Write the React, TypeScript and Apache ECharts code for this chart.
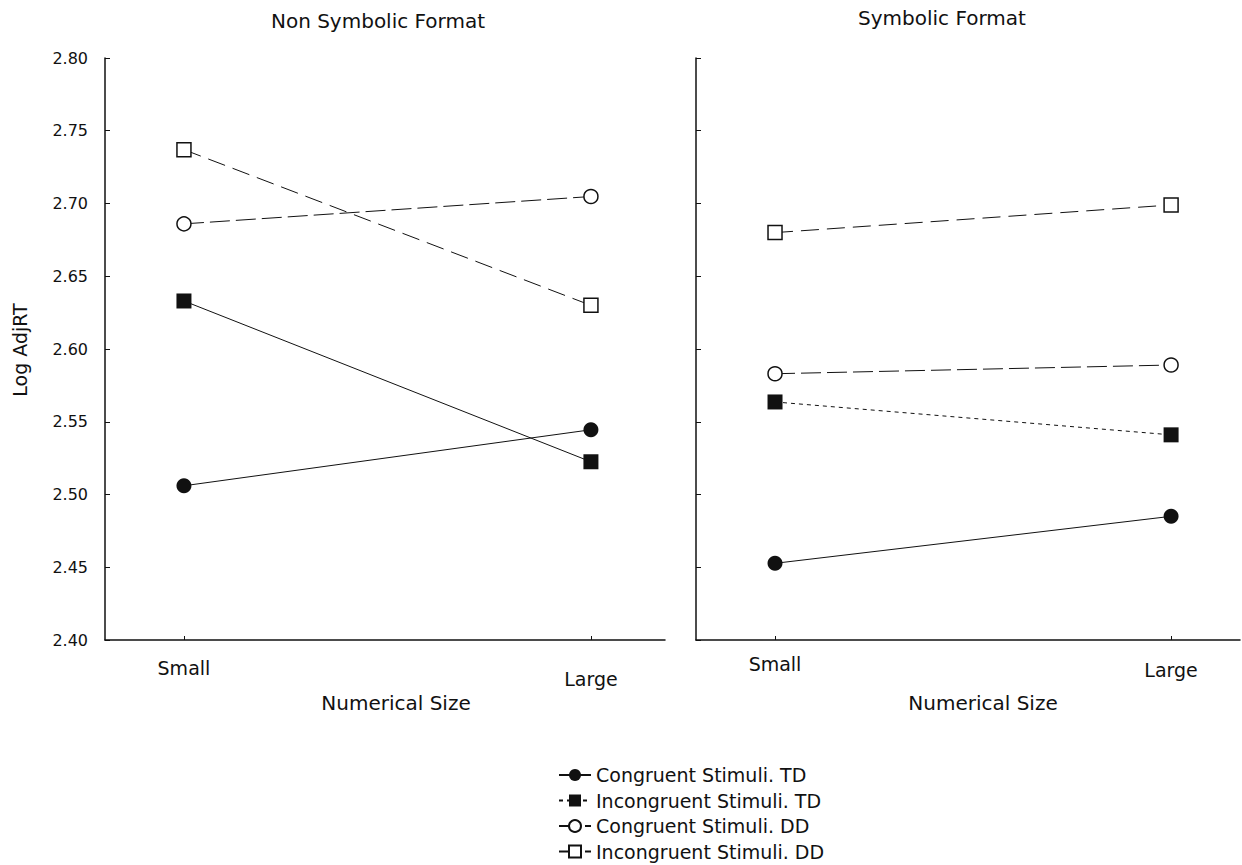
import React, { useEffect, useRef } from "react";
import * as echarts from "echarts";

const categories = ["Small", "Large"];
const seriesNames = [
  "Congruent Stimuli. TD",
  "Incongruent Stimuli. TD",
  "Congruent Stimuli. DD",
  "Incongruent Stimuli. DD",
];
// Non Symbolic Format
const nonSymCongTD = [2.506, 2.5445];
const nonSymIncongTD = [2.633, 2.5225];
const nonSymCongDD = [2.686, 2.7048];
const nonSymIncongDD = [2.737, 2.63];
// Symbolic Format
const symCongTD = [2.4527, 2.485];
const symIncongTD = [2.5636, 2.541];
const symCongDD = [2.583, 2.589];
const symIncongDD = [2.68, 2.699];

const yTicks = [2.4, 2.45, 2.5, 2.55, 2.6, 2.65, 2.7, 2.75, 2.8];

const FONT = "DejaVu Sans";
const INK = "#111";

export default function App() {
  const ref = useRef<HTMLDivElement>(null);
  useEffect(() => {
    if (!ref.current) return;
    const chart = echarts.init(ref.current, null, { renderer: "svg" });

    const styles = [
      { symbol: "circle", size: 15, fill: INK, border: 0, line: "solid" as any },
      { symbol: "rect", size: 15, fill: INK, border: 0, line: "solid" as any },
      { symbol: "circle", size: 14, fill: "#fff", border: 1.5, line: [20, 6] as any },
      { symbol: "rect", size: 14, fill: "#fff", border: 1.5, line: [18, 8] as any },
    ];
    const toPts = (arr: number[]) => arr.map((v, i) => [i, v]);
    const mk = (name: number, data: number[], grid: number, lineType?: any) => {
      const s = styles[name];
      return {
        type: "line",
        name: seriesNames[name],
        xAxisIndex: grid,
        yAxisIndex: grid,
        data: toPts(data),
        symbol: s.symbol,
        symbolSize: s.size,
        showSymbol: true,
        lineStyle: { color: INK, width: 1, type: lineType ?? s.line },
        itemStyle: { color: s.fill, borderColor: INK, borderWidth: s.border },
        z: name >= 2 ? 3 : 4,
      };
    };

    const xAxisBase = (min: number, max: number, smallMargin: number, largePad: number) => ({
      type: "value",
      min,
      max,
      axisLine: { show: true, onZero: false, lineStyle: { color: INK, width: 1.5 } },
      axisTick: { show: true, inside: true, length: 4, customValues: [0, 1], lineStyle: { color: INK } },
      axisLabel: {
        customValues: [0, 1],
        margin: smallMargin,
        formatter: (v: number) => (v === 0 ? "{s|" + categories[0] + "}" : "{l|" + categories[1] + "}"),
        rich: {
          s: { fontFamily: FONT, fontSize: 19, color: INK },
          l: { fontFamily: FONT, fontSize: 19, color: INK, padding: [largePad, 0, 0, 0] },
        },
      },
      splitLine: { show: false },
    });
    const yAxisBase = (showLabels: boolean) => ({
      type: "value",
      min: 2.4,
      max: 2.8,
      interval: 0.05,
      axisLine: { show: true, onZero: false, lineStyle: { color: INK, width: 1.5 } },
      axisTick: { show: true, inside: true, length: 5, lineStyle: { color: INK } },
      axisLabel: {
        show: showLabels,
        margin: 17,
        fontFamily: FONT,
        fontSize: 16,
        color: INK,
        formatter: (v: number) => {
          const t = yTicks.find((k) => Math.abs(k - v) < 1e-6);
          return (t ?? v).toFixed(2);
        },
      },
      splitLine: { show: false },
    });

    chart.setOption({
      animation: false,
      backgroundColor: "#fff",
      textStyle: { fontFamily: FONT },
      grid: [
        { left: 105, top: 58, width: 560, height: 582 },
        { left: 696, top: 58, width: 544, height: 582 },
      ],
      xAxis: [
        { ...xAxisBase(-0.194, 1.182, 18, 11), gridIndex: 0 },
        { ...xAxisBase(-0.1995, 1.174, 14, 6), gridIndex: 1 },
      ],
      yAxis: [
        { ...yAxisBase(true), gridIndex: 0 },
        { ...yAxisBase(false), gridIndex: 1 },
      ],
      legend: {
        orient: "vertical",
        left: 553,
        top: 765,
        height: 100,
        padding: [0, 5, 0, 5],
        itemWidth: 32,
        itemHeight: 15,
        itemGap: 5.5,
        data: seriesNames,
        textStyle: { fontFamily: FONT, fontSize: 19, color: INK, lineHeight: 20 },
        selectedMode: false,
      },
      graphic: [
        {
          type: "text",
          x: 378,
          y: 21,
          style: { text: "Non Symbolic Format", font: `20px "${FONT}"`, fill: INK, textAlign: "center", textVerticalAlign: "middle" },
        },
        {
          type: "text",
          x: 942,
          y: 18,
          style: { text: "Symbolic Format", font: `20px "${FONT}"`, fill: INK, textAlign: "center", textVerticalAlign: "middle" },
        },
        {
          type: "text",
          x: 396,
          y: 703,
          style: { text: "Numerical Size", font: `20px "${FONT}"`, fill: INK, textAlign: "center", textVerticalAlign: "middle" },
        },
        {
          type: "text",
          x: 983,
          y: 703,
          style: { text: "Numerical Size", font: `20px "${FONT}"`, fill: INK, textAlign: "center", textVerticalAlign: "middle" },
        },
        {
          type: "text",
          x: 20,
          y: 350,
          rotation: Math.PI / 2,
          style: { text: "Log AdjRT", font: `19px "${FONT}"`, fill: INK, textAlign: "center", textVerticalAlign: "middle" },
        },
      ],
      series: [
        // right panel first so the legend icons take its line styles
        mk(0, symCongTD, 1),
        mk(1, symIncongTD, 1, [4, 4]),
        mk(2, symCongDD, 1),
        mk(3, symIncongDD, 1),
        mk(0, nonSymCongTD, 0),
        mk(1, nonSymIncongTD, 0),
        mk(2, nonSymCongDD, 0),
        mk(3, nonSymIncongDD, 0),
      ],
    });
    return () => chart.dispose();
  }, []);
  return <div ref={ref} style={{ position: "fixed", left: 0, top: 0, width: 1242, height: 865 }} />;
}
